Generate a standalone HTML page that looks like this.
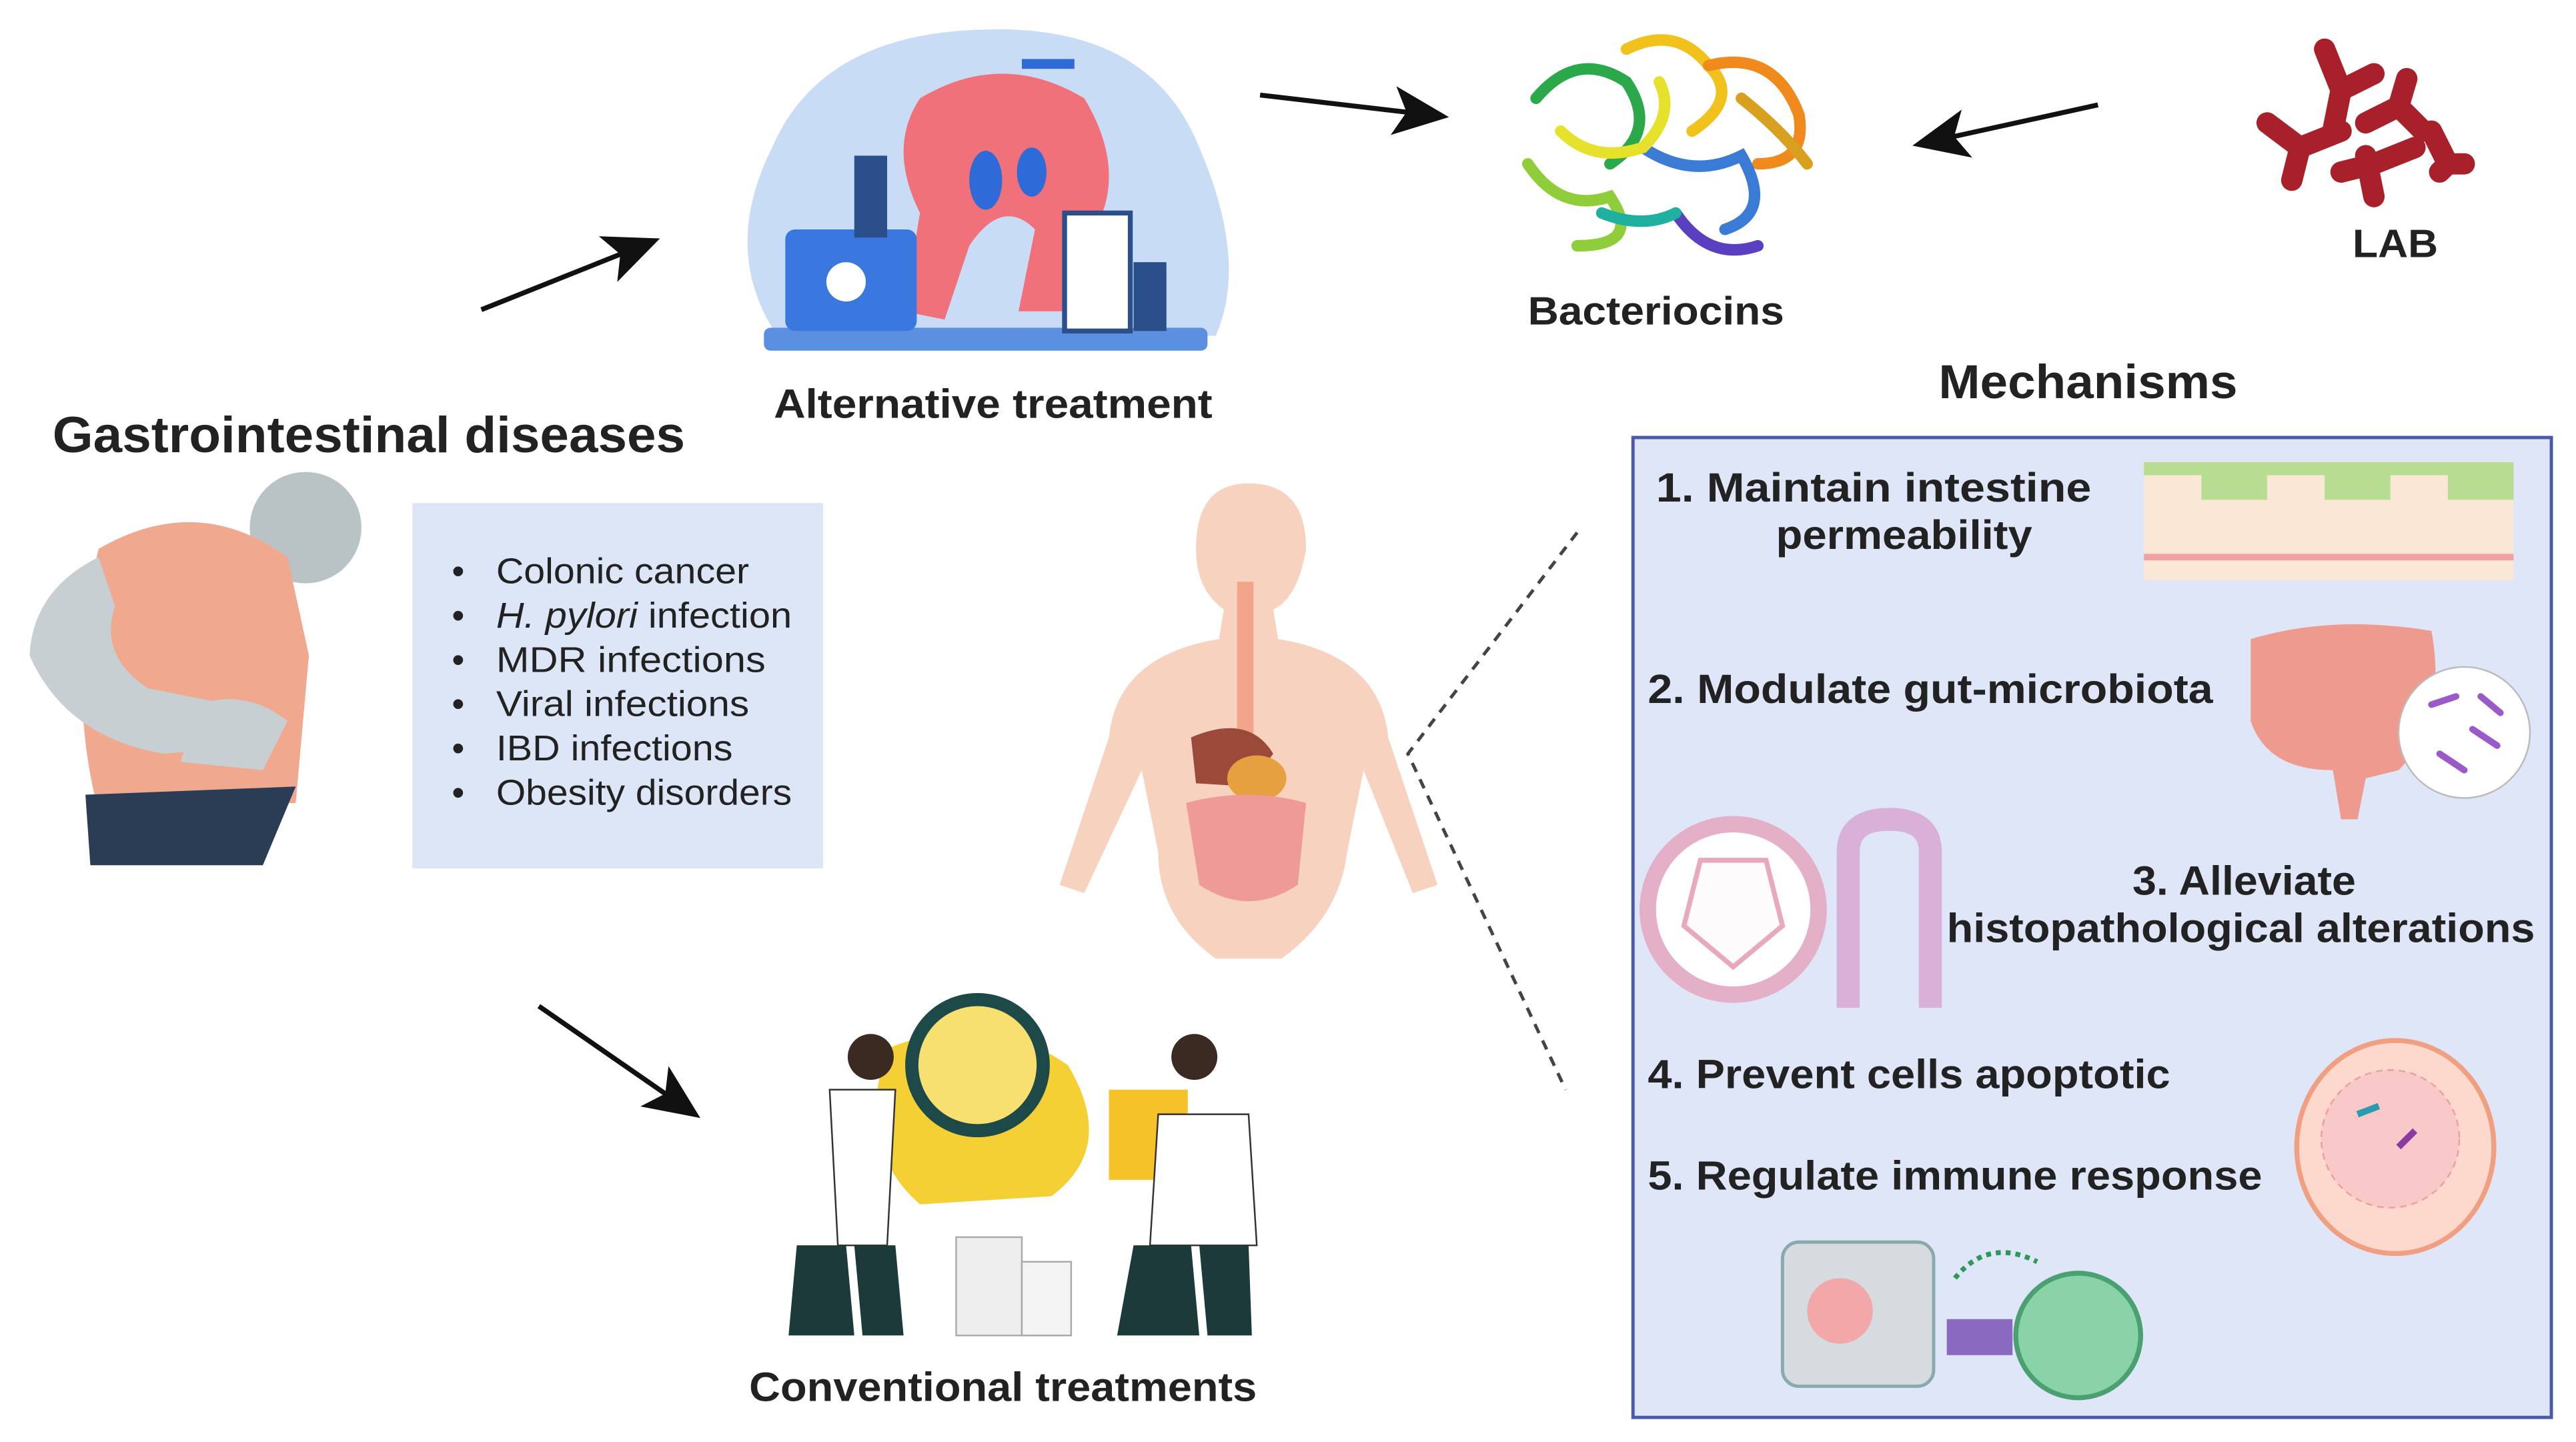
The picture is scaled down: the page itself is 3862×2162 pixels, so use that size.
<!DOCTYPE html>
<html><head><meta charset="utf-8"><style>
html,body{margin:0;padding:0;background:#fff;}
svg{display:block;width:3862px;height:2162px;}
text{font-family:"Liberation Sans",sans-serif;}
.b{font-weight:bold;fill:#222;}
.r{fill:#222;}
</style></head><body>
<svg viewBox="0 0 1568 880" preserveAspectRatio="none" xmlns="http://www.w3.org/2000/svg">
<defs>
<marker id="ah2" markerWidth="34" markerHeight="30" refX="30" refY="15" orient="auto" markerUnits="userSpaceOnUse">
<path d="M0,0 L34,15 L0,30 L8,15 z" fill="#111"/></marker>
</defs>
<rect width="1568" height="880" fill="#fff"/>

<line x1="293" y1="189" x2="398" y2="147" stroke="#111" stroke-width="3" marker-end="url(#ah2)"/>
<line x1="767" y1="58" x2="878" y2="71" stroke="#111" stroke-width="3" marker-end="url(#ah2)"/>
<line x1="1277" y1="64" x2="1168" y2="88" stroke="#111" stroke-width="3" marker-end="url(#ah2)"/>
<line x1="328" y1="614" x2="423" y2="680" stroke="#111" stroke-width="3" marker-end="url(#ah2)"/>

<text x="32" y="276" class="b" font-size="31" textLength="385" lengthAdjust="spacingAndGlyphs">Gastrointestinal diseases</text>

<!-- person -->
<circle cx="186" cy="322" r="34" fill="#b9c3c6"/>
<path d="M60,335 Q120,300 175,340 L188,400 L180,490 L60,495 Q40,420 60,335z" fill="#f0a98f"/>
<path d="M60,340 Q20,360 18,400 Q40,450 100,460 L150,455 L140,430 L90,420 Q60,400 70,370z" fill="#c7cfd2"/>
<path d="M120,430 Q150,420 175,440 L160,470 L110,465z" fill="#c7cfd2"/>
<path d="M52,485 L180,480 L160,528 L55,528z" fill="#2b3d55"/>

<rect x="251" y="307" width="250" height="223" fill="#dde6f7"/>
<g font-size="22" class="r">
<text x="275" y="356">•</text><text x="302" y="356" textLength="154" lengthAdjust="spacingAndGlyphs">Colonic cancer</text>
<text x="275" y="383">•</text><text x="302" y="383" textLength="180" lengthAdjust="spacingAndGlyphs"><tspan font-style="italic">H. pylori</tspan> infection</text>
<text x="275" y="410">•</text><text x="302" y="410" textLength="164" lengthAdjust="spacingAndGlyphs">MDR  infections</text>
<text x="275" y="437">•</text><text x="302" y="437" textLength="154" lengthAdjust="spacingAndGlyphs">Viral infections</text>
<text x="275" y="464">•</text><text x="302" y="464" textLength="144" lengthAdjust="spacingAndGlyphs">IBD infections</text>
<text x="275" y="491">•</text><text x="302" y="491" textLength="180" lengthAdjust="spacingAndGlyphs">Obesity disorders</text>
</g>

<!-- alternative treatment -->
<path d="M470,200 Q440,150 470,90 Q500,20 600,18 Q700,15 730,90 Q760,160 740,205z" fill="#c9dcf5"/>
<rect x="465" y="200" width="270" height="14" rx="4" fill="#5b8fe0"/>
<path d="M560,60 Q610,30 660,60 Q690,110 660,150 L650,190 L620,190 L630,140 Q610,120 590,150 L575,195 L550,190 L560,130 Q540,90 560,60z" fill="#f0717a"/>
<ellipse cx="600" cy="110" rx="10" ry="18" fill="#2e6ad8"/>
<ellipse cx="628" cy="105" rx="9" ry="15" fill="#2e6ad8"/>
<rect x="478" y="140" width="80" height="62" rx="6" fill="#3a78e0"/>
<circle cx="515" cy="172" r="12" fill="#fff"/>
<rect x="648" y="130" width="40" height="72" fill="#fff" stroke="#2b4f8a" stroke-width="3"/>
<rect x="690" y="160" width="20" height="42" fill="#2b4f8a"/>
<rect x="520" y="95" width="20" height="50" fill="#2b4f8a"/>
<rect x="622" y="36" width="32" height="6" fill="#2e6ad8"/>
<text x="471" y="255" class="b" font-size="25" textLength="267" lengthAdjust="spacingAndGlyphs">Alternative treatment</text>

<!-- bacteriocins -->
<g stroke-width="7" fill="none" stroke-linecap="round">
<path d="M935,60 Q960,30 990,50 Q1010,80 980,100" stroke="#2aa84a"/>
<path d="M930,100 Q950,130 980,120 Q1000,150 960,150" stroke="#8fce3a"/>
<path d="M990,30 Q1020,15 1040,40 Q1060,60 1030,80" stroke="#f1c21b"/>
<path d="M1040,40 Q1080,30 1095,70 Q1100,100 1070,100" stroke="#f08a1c"/>
<path d="M1000,90 Q1030,110 1060,95 Q1080,130 1050,140" stroke="#3a7bd5"/>
<path d="M1020,130 Q1040,160 1070,150" stroke="#5a3fc0"/>
<path d="M950,80 Q970,100 1000,90 Q1020,70 1010,50" stroke="#e6e12a"/>
<path d="M1060,60 Q1085,80 1100,100" stroke="#d9a020"/>
<path d="M975,130 Q1000,140 1020,130" stroke="#1fb0a0"/>
</g>
<text x="930" y="198" class="b" font-size="24" textLength="156" lengthAdjust="spacingAndGlyphs">Bacteriocins</text>

<!-- LAB -->
<g stroke="#a8202a" stroke-width="13" stroke-linecap="round" fill="none">
<path d="M1415,30 L1425,55 L1445,45 M1425,55 L1420,80"/>
<path d="M1380,75 L1400,90 L1395,110 M1400,90 L1425,80"/>
<path d="M1440,75 L1460,65 L1475,80 M1460,65 L1465,48"/>
<path d="M1440,95 L1445,120 M1445,100 L1470,90 M1445,100 L1425,105"/>
<path d="M1480,80 L1490,100 L1500,100 M1490,100 L1485,105"/>
</g>
<text x="1432" y="157" class="b" font-size="24" textLength="52" lengthAdjust="spacingAndGlyphs">LAB</text>

<text x="1180" y="243" class="b" font-size="29" textLength="182" lengthAdjust="spacingAndGlyphs">Mechanisms</text>

<!-- human body -->
<path d="M760,295 Q795,295 795,335 Q790,365 775,372 L778,390 Q840,400 845,450 L875,540 L860,545 L830,470 L820,520 Q815,560 780,585 L740,585 Q705,560 705,520 L695,470 L660,545 L645,540 L675,450 Q680,400 742,390 L745,372 Q728,360 728,335 Q728,295 760,295z" fill="#f7d2bf"/>
<rect x="753" y="355" width="10" height="110" fill="#f3a58b"/>
<path d="M725,450 Q760,435 775,460 L760,480 L728,478z" fill="#9b4a3a"/>
<ellipse cx="765" cy="475" rx="18" ry="14" fill="#e6a040"/>
<path d="M722,490 Q760,480 795,490 L790,540 Q760,560 730,540z" fill="#ee9a96"/>

<path d="M960,325 L857,460 L953,665" fill="none" stroke="#444" stroke-width="2" stroke-dasharray="6,5"/>

<!-- conventional treatments -->
<path d="M540,640 Q600,615 650,650 Q680,700 640,730 L560,735 Q520,700 540,640z" fill="#f5d034"/>
<circle cx="595" cy="650" r="40" fill="#f8e070" stroke="#1d4a48" stroke-width="8"/>
<rect x="675" y="665" width="48" height="55" fill="#f5c22a"/>
<circle cx="530" cy="645" r="14" fill="#3a2a22"/>
<path d="M505,665 L545,665 L540,760 L510,760z" fill="#fff" stroke="#333"/>
<path d="M485,760 L515,760 L520,815 L480,815z M520,760 L545,760 L550,815 L525,815z" fill="#1d3a3a"/>
<circle cx="727" cy="645" r="14" fill="#3a2a22"/>
<path d="M705,680 L760,680 L765,760 L700,760z" fill="#fff" stroke="#333"/>
<path d="M690,760 L725,760 L730,815 L680,815z M730,760 L760,760 L762,815 L735,815z" fill="#1d3a3a"/>
<rect x="582" y="755" width="40" height="60" fill="#eee" stroke="#aaa"/>
<rect x="622" y="770" width="30" height="45" fill="#f4f4f4" stroke="#aaa"/>
<text x="456" y="855" class="b" font-size="25" textLength="309" lengthAdjust="spacingAndGlyphs">Conventional treatments</text>

<!-- mechanisms box -->
<rect x="994" y="267" width="559" height="598" fill="#dfe6f8" stroke="#4a5aa8" stroke-width="2"/>
<g class="b" font-size="25">
<text x="1008" y="306" textLength="265" lengthAdjust="spacingAndGlyphs">1.  Maintain intestine</text>
<text x="1081" y="335" textLength="156" lengthAdjust="spacingAndGlyphs">permeability</text>
<text x="1003" y="429" textLength="344" lengthAdjust="spacingAndGlyphs">2. Modulate gut-microbiota</text>
<text x="1298" y="546" textLength="136" lengthAdjust="spacingAndGlyphs">3. Alleviate</text>
<text x="1185" y="575" textLength="358" lengthAdjust="spacingAndGlyphs">histopathological alterations</text>
<text x="1003" y="664" textLength="318" lengthAdjust="spacingAndGlyphs">4. Prevent cells apoptotic</text>
<text x="1003" y="726" textLength="374" lengthAdjust="spacingAndGlyphs">5. Regulate immune response</text>
</g>
<rect x="1305" y="282" width="225" height="72" fill="#fbe7d6"/>
<path d="M1305,290 L1340,290 L1340,305 L1380,305 L1380,290 L1415,290 L1415,305 L1455,305 L1455,290 L1490,290 L1490,305 L1530,305 L1530,282 L1305,282z" fill="#b6dd92"/>
<line x1="1305" y1="340" x2="1530" y2="340" stroke="#f3a0a0" stroke-width="4"/>
<path d="M1370,390 Q1420,375 1480,385 Q1490,440 1460,470 L1440,475 L1435,500 L1425,500 L1420,470 Q1380,470 1370,440z" fill="#ee9a8e"/>
<circle cx="1500" cy="447" r="40" fill="#fff" stroke="#bbb"/>
<g stroke="#9a5ac8" stroke-width="4" stroke-linecap="round"><line x1="1480" y1="430" x2="1495" y2="425"/><line x1="1505" y1="445" x2="1520" y2="455"/><line x1="1485" y1="460" x2="1500" y2="470"/><line x1="1510" y1="425" x2="1522" y2="435"/></g>
<circle cx="1055" cy="555" r="52" fill="#fff" stroke="#e4b0c8" stroke-width="10"/>
<path d="M1035,525 L1075,525 L1085,565 L1055,590 L1025,565z" fill="#fdfbfb" stroke="#e8a8c0" stroke-width="3"/>
<path d="M1125,615 L1125,520 Q1125,500 1150,500 Q1175,500 1175,520 L1175,615" fill="none" stroke="#d8b0d8" stroke-width="14"/>
<ellipse cx="1458" cy="700" rx="60" ry="65" fill="#fcd9cc" stroke="#f0a080" stroke-width="3"/>
<circle cx="1455" cy="695" r="42" fill="#f9c8c8" stroke="#e8a0a0" stroke-dasharray="4,3"/>
<path d="M1435,680 L1448,675" stroke="#2a9ab0" stroke-width="4"/>
<path d="M1460,700 L1470,690" stroke="#8a3aa0" stroke-width="4"/>
<rect x="1085" y="758" width="92" height="88" rx="10" fill="#d6dbe0" stroke="#8aa" stroke-width="2"/>
<circle cx="1120" cy="800" r="20" fill="#f2a8a8"/>
<circle cx="1265" cy="815" r="38" fill="#8ad3a8" stroke="#4aa070" stroke-width="3"/>
<rect x="1185" y="805" width="40" height="22" fill="#8a6ac0"/>
<path d="M1190,780 Q1210,755 1240,770" fill="none" stroke="#2a9a5a" stroke-width="3" stroke-dasharray="3,3"/>
</svg>
</body></html>
